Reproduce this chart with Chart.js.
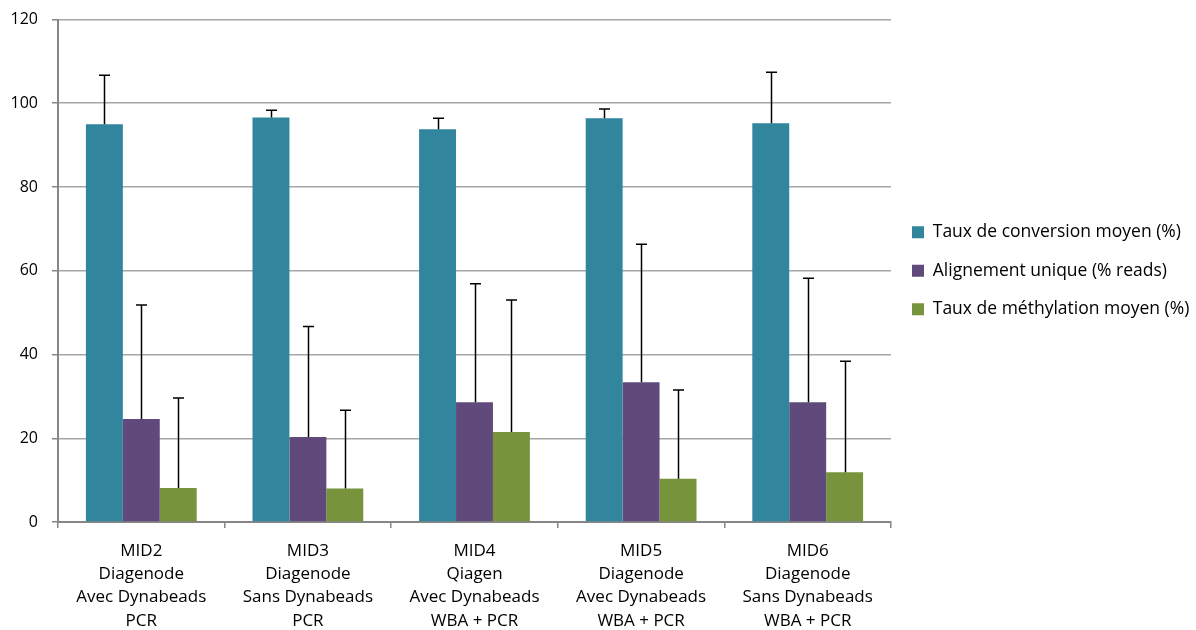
<!DOCTYPE html>
<html>
<head>
<meta charset="utf-8">
<script src="https://cdn.jsdelivr.net/npm/chart.js@4"></script>
<style>
  html, body { margin: 0; padding: 0; background: #fff; }
  #wrap { width: 1196px; height: 630px; }
</style>
</head>
<body>
<div id="wrap"><canvas id="chart" width="1196" height="630"></canvas></div>
<script>
const categories = [
  ['MID2', 'Diagenode', 'Avec Dynabeads', 'PCR'],
  ['MID3', 'Diagenode', 'Sans Dynabeads', 'PCR'],
  ['MID4', 'Qiagen', 'Avec Dynabeads', 'WBA + PCR'],
  ['MID5', 'Diagenode', 'Avec Dynabeads', 'WBA + PCR'],
  ['MID6', 'Diagenode', 'Sans Dynabeads', 'WBA + PCR']
];

const seriesNames = [
  'Taux de conversion moyen (%)',
  'Alignement unique (% reads)',
  'Taux de méthylation moyen (%)'
];

const conversion = [95.0, 96.6, 93.8, 96.4, 95.2];
const alignement = [24.6, 20.3, 28.6, 33.4, 28.6];
const methylation = [8.1, 8.0, 21.5, 10.3, 11.9];

// upper end of the error bars
const conversionErr = [106.7, 98.3, 96.4, 98.6, 107.4];
const alignementErr = [51.8, 46.7, 56.9, 66.3, 58.2];
const methylationErr = [29.6, 26.7, 53.0, 31.5, 38.4];

const yTicks = [0, 20, 40, 60, 80, 100, 120];

const colors = ['#31859C', '#604A7B', '#77933C'];
const FONT = "'Open Sans', 'Liberation Sans', sans-serif";

const errorBars = {
  id: 'errorBars',
  afterDatasetsDraw(chart) {
    const { ctx, scales: { y } } = chart;
    ctx.save();
    ctx.strokeStyle = '#000';
    ctx.lineWidth = 1.5;
    chart.data.datasets.forEach((ds, i) => {
      const meta = chart.getDatasetMeta(i);
      meta.data.forEach((bar, j) => {
        const top = y.getPixelForValue(ds.errTop[j]);
        const x = Math.round(bar.x) + 0.5;
        ctx.beginPath();
        ctx.moveTo(x, bar.y);
        ctx.lineTo(x, top);
        ctx.moveTo(x - 5.5, top);
        ctx.lineTo(x + 5.5, top);
        ctx.stroke();
      });
    });
    ctx.restore();
  }
};

// keep the legend 305px wide and centred on the plot area
const legendPlace = {
  id: 'legendPlace',
  afterInit(chart) {
    const legend = chart.legend;
    if (!legend) return;
    const fit = legend.fit;
    legend.fit = function () {
      fit.call(this);
      this.width = 305;
      this.right = this.left + 305;
    };
  },
  afterLayout(chart) {
    const legend = chart.legend;
    const area = chart.chartArea;
    legend.top = area.top;
    legend.bottom = area.bottom;
    legend.height = area.bottom - area.top;
  }
};

new Chart(document.getElementById('chart'), {
  type: 'bar',
  data: {
    labels: categories,
    datasets: [
      { label: seriesNames[0], data: conversion, errTop: conversionErr, backgroundColor: colors[0] },
      { label: seriesNames[1], data: alignement, errTop: alignementErr, backgroundColor: colors[1] },
      { label: seriesNames[2], data: methylation, errTop: methylationErr, backgroundColor: colors[2] }
    ]
  },
  options: {
    responsive: false,
    animation: false,
    layout: { padding: { top: 19.5, left: 0, right: 0, bottom: 0 } },
    datasets: {
      bar: { barPercentage: 1, categoryPercentage: 0.665, borderWidth: 0 }
    },
    plugins: {
      legend: {
        position: 'right',
        labels: {
          boxWidth: 12,
          boxHeight: 12,
          padding: 21,
          color: '#000',
          font: { family: FONT, size: 17.5 }
        }
      },
      tooltip: { enabled: false }
    },
    scales: {
      x: {
        grid: {
          offset: true,
          drawOnChartArea: false,
          tickLength: 6,
          tickColor: '#868686',
          lineWidth: 1.5
        },
        border: { color: '#868686', width: 2 },
        ticks: {
          color: '#000',
          padding: 11,
          maxRotation: 0,
          autoSkip: false,
          font: { family: FONT, size: 17, lineHeight: 1.38 }
        },
        afterFit(scale) { scale.height = 108; }
      },
      y: {
        min: 0,
        max: 120,
        afterBuildTicks(scale) { scale.ticks = yTicks.map(v => ({ value: v })); },
        grid: {
          color: '#A6A6A6',
          lineWidth: 1.5,
          tickLength: 6,
          tickColor: '#868686'
        },
        border: { color: '#868686', width: 2 },
        ticks: {
          color: '#000',
          padding: 14,
          font: { family: FONT, size: 16 }
        },
        afterFit(scale) {
          scale.width = 58;
          scale.paddingTop = 0;
          scale.paddingBottom = 0;
        }
      }
    }
  },
  plugins: [errorBars, legendPlace]
});
</script>
</body>
</html>
